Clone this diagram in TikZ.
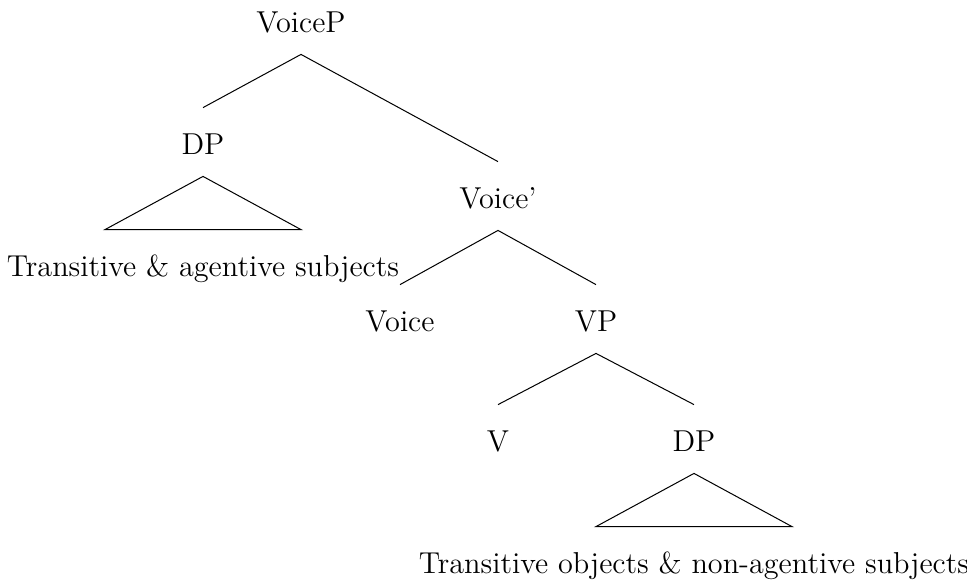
\documentclass[tikz,border=0pt]{standalone}
\begin{document}
\begin{tikzpicture}[x=0.3968pt, y=-0.3968pt, every node/.style={anchor=base, inner sep=0pt, font=\large, text height=18.6pt, text depth=8.3pt}]
        \useasboundingbox (0,0) rectangle (967,581);
        \node (A) at (301,33) {VoiceP};

        \node (B) at (203,155) {DP};
        \node (C) at (498,209) {Voice'};

        \node (D) at (400,332) {Voice};
        \node (E) at (596,332) {VP};

        \node (F) at (498,452) {V};
        \node (G) at (694,452) {DP};

        \node (S) at (203,277) {Transitive \& agentive subjects};
        \node (O) at (694,574) {Transitive objects \& non-agentive subjects};

        \draw (A.south) -- (B.north);
        \draw (A.south) -- (C.north);

        \draw (C.south) -- (D.north);
        \draw (C.south) -- (E.north);

        \draw (E.south) -- (F.north);
        \draw (E.south) -- (G.north);

        \draw (B.south) -- ([xshift=-38.9pt]S.north) -- ([xshift=38.9pt]S.north) -- cycle;
        \draw (G.south) -- ([xshift=-38.9pt]O.north) -- ([xshift=38.9pt]O.north) -- cycle;
    \end{tikzpicture}
\end{document}
